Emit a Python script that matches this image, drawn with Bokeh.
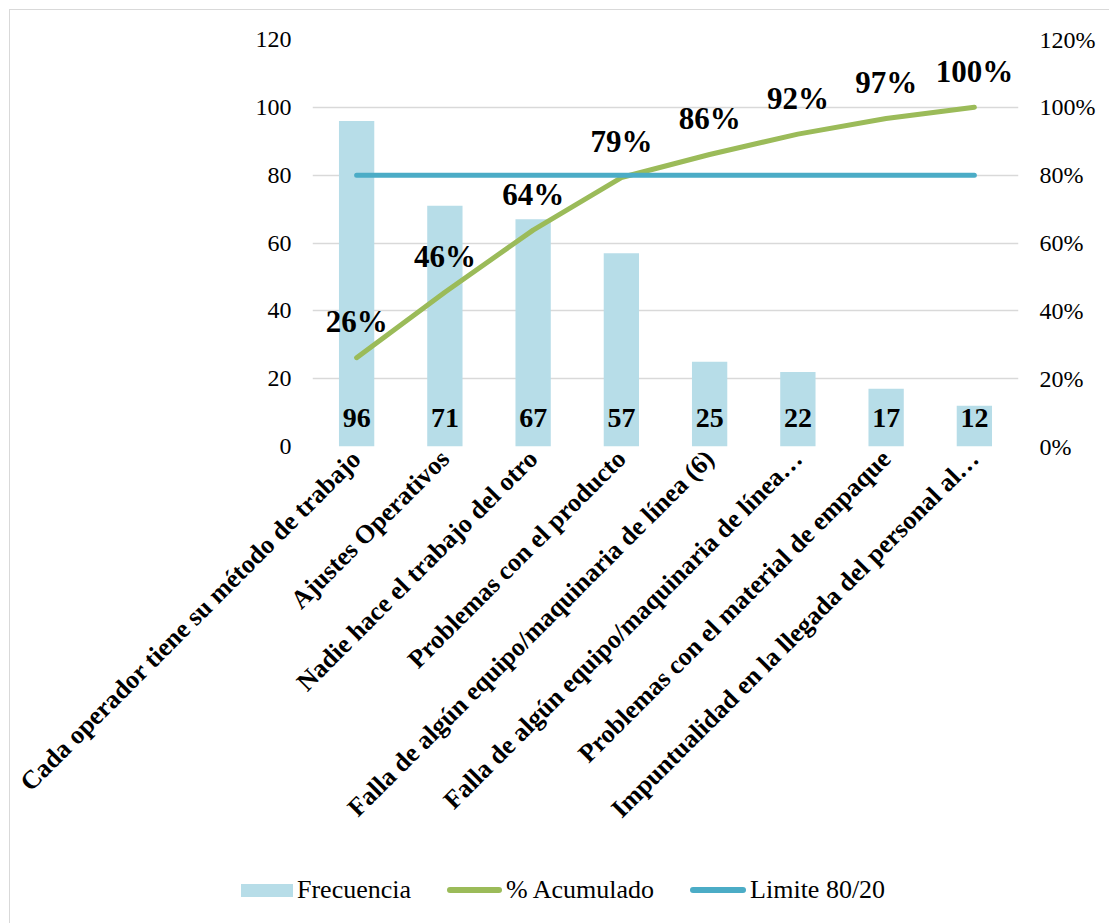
import math
from bokeh.plotting import figure
from bokeh.layouts import column
from bokeh.models import (Range1d, LinearAxis, FixedTicker, NumeralTickFormatter,
                          FactorRange, Div)
from bokeh.core.properties import value
from bokeh.embed import file_html
from bokeh.resources import INLINE

# ---------------- data ----------------
categories = [
    "Cada operador tiene su método de trabajo",
    "Ajustes Operativos",
    "Nadie hace el trabajo del otro",
    "Problemas con el producto",
    "Falla de algún equipo/maquinaria de línea (6)",
    "Falla de algún equipo/maquinaria de línea…",
    "Problemas con el material de empaque",
    "Impuntualidad en la llegada del personal al…",
]
frecuencia = [96, 71, 67, 57, 25, 22, 17, 12]
frecuencia_labels = ["96", "71", "67", "57", "25", "22", "17", "12"]
acumulado = [0.262, 0.455, 0.638, 0.793, 0.861, 0.921, 0.967, 1.0]
acumulado_labels = ["26%", "46%", "64%", "79%", "86%", "92%", "97%", "100%"]
limite = [0.8, 0.8, 0.8, 0.8, 0.8, 0.8, 0.8, 0.8]
left_ticks = [0, 20, 40, 60, 80, 100, 120]
right_ticks = [0, 0.2, 0.4, 0.6, 0.8, 1.0, 1.2]
legend_labels = ["Frecuencia", "% Acumulado", "Limite 80/20"]

# ---------------- style ----------------
FONT = "Liberation Serif"
BAR_COLOR = "#B7DDE8"
CUM_COLOR = "#9BBB59"
LIM_COLOR = "#4BACC6"
GRID_COLOR = "#D9D9D9"

p = figure(
    x_range=FactorRange(*categories, range_padding=0),
    y_range=Range1d(0, 120),
    width=1095, height=860,
    min_border_left=302, min_border_right=87,
    min_border_top=29, min_border_bottom=424,
    output_backend="svg", toolbar_location=None,
)
p.extra_y_ranges = {"pct": Range1d(0, 1.2)}
p.outline_line_color = None
p.background_fill_color = "white"
p.border_fill_color = "white"

# grid
p.xgrid.grid_line_color = None
p.ygrid.ticker = FixedTicker(ticks=left_ticks)
p.ygrid.grid_line_color = GRID_COLOR
p.ygrid.grid_line_width = 1.5

# bars
bars = p.vbar(x=categories, top=frecuencia, width=0.4, color=BAR_COLOR, line_color=None)

# lines
cum = p.line(x=categories, y=acumulado, y_range_name="pct", line_color=CUM_COLOR,
             line_width=5, line_cap="round", line_join="round")
lim = p.line(x=categories, y=limite, y_range_name="pct", line_color=LIM_COLOR,
             line_width=5, line_cap="round")

# labels
p.text(x=categories, y=0, text=frecuencia_labels, text_align="center",
       text_baseline="alphabetic", y_offset=-29,
       text_font=value(FONT), text_font_style="bold", text_font_size="28px",
       text_color="black")
p.text(x=categories, y=acumulado, text=acumulado_labels, y_range_name="pct",
       text_align="center", text_baseline="alphabetic", y_offset=-36,
       text_font=value(FONT), text_font_style="bold", text_font_size="31px",
       text_color="black")

# axes
p.yaxis[0].ticker = FixedTicker(ticks=left_ticks)
right = LinearAxis(y_range_name="pct", ticker=FixedTicker(ticks=right_ticks),
                   formatter=NumeralTickFormatter(format="0%"))
p.add_layout(right, "right")

for ax in [p.yaxis[0], right]:
    ax.axis_line_color = None
    ax.major_tick_line_color = None
    ax.minor_tick_line_color = None
    ax.major_tick_out = 0
    ax.major_tick_in = 0
    ax.major_label_standoff = 21
    ax.major_label_text_font = FONT
    ax.major_label_text_font_size = "24px"
    ax.major_label_text_color = "black"

xa = p.xaxis[0]
xa.axis_line_color = None
xa.major_tick_line_color = None
xa.minor_tick_line_color = None
xa.major_tick_out = 0
xa.major_tick_in = 0
xa.major_label_standoff = 8
xa.major_label_orientation = math.pi / 4
xa.major_label_text_font = FONT
xa.major_label_text_font_style = "bold"
xa.major_label_text_font_size = "26px"
xa.major_label_text_color = "black"

# ---------------- legend strip ----------------
swatches = [
    ("width:52px;height:13px;", BAR_COLOR),
    ("width:55px;height:6px;border-radius:3px;", CUM_COLOR),
    ("width:56px;height:6px;border-radius:3px;", LIM_COLOR),
]
parts = []
for i, (lab, (shape, col)) in enumerate(zip(legend_labels, swatches)):
    gap = "0px" if i == 0 else "36px"
    parts.append(
        f'<span style="display:inline-block;{shape}background:{col};'
        f'margin-left:{gap};margin-right:4px;"></span>'
        f'<span style="white-space:nowrap;">{lab}</span>'
    )
legend_html = (
    f'<div style="display:flex;align-items:center;height:30px;padding-left:226px;margin:0;'
    f"font-family:'{FONT}';font-size:26px;line-height:30px;color:#000;\">" + "".join(parts) + "</div>"
)
legend_div = Div(text=legend_html, width=1095, height=48)

layout = column(p, legend_div, spacing=0)
layout.margin = (9, 0, 0, 9)
layout.styles = {"border": "1px solid #D9D9D9"}

open("out.html", "w").write(file_html(layout, INLINE))
